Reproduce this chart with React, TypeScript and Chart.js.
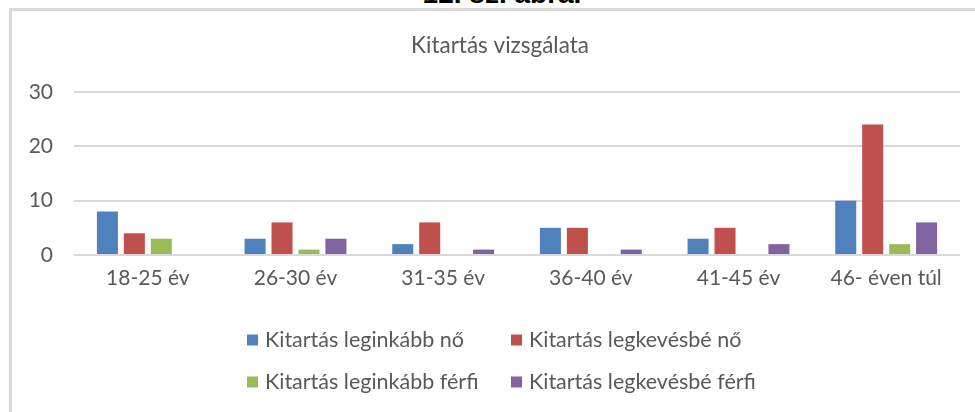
import React, { useEffect, useRef } from "react";
import { Chart, registerables } from "chart.js";

Chart.register(...registerables);

const categories = ["18-25 év", "26-30 év", "31-35 év", "36-40 év", "41-45 év", "46- éven túl"];
const seriesNames = [
  "Kitartás leginkább nő",
  "Kitartás legkevésbé nő",
  "Kitartás leginkább férfi",
  "Kitartás legkevésbé férfi",
];
const leginkabbNo = [8, 3, 2, 5, 3, 10];
const legkevesbeNo = [4, 6, 6, 5, 5, 24];
const leginkabbFerfi = [3, 1, 0, 0, 0, 2];
const legkevesbeFerfi = [0, 3, 1, 1, 2, 6];
const seriesColors = ["#4f81bd", "#c0504d", "#9bbb59", "#8064a2"];
const yMin = 0;
const yMax = 30;
const yStep = 10;
const chartTitle = "Kitartás vizsgálata";
const captionText = "12. sz. ábra.";

const FONT = "Lato, 'Open Sans', sans-serif";
const TEXT = "#595959";
const GRID = "#d9d9d9";

const titleLegendPlugin = {
  id: "titleAndGridLegend",
  afterDraw(chart: any) {
    const ctx = chart.ctx;
    ctx.save();
    // title
    ctx.font = `22.5px ${FONT}`;
    ctx.fillStyle = TEXT;
    ctx.textAlign = "center";
    ctx.textBaseline = "middle";
    ctx.fillText(chartTitle, 488, 35);
    // legend in two aligned columns
    const cols = [235, 499];
    const rows = [329, 371];
    const box = 11;
    ctx.font = `21.5px ${FONT}`;
    ctx.textAlign = "left";
    chart.data.datasets.forEach((ds: any, i: number) => {
      const x = cols[i % 2];
      const y = rows[Math.floor(i / 2)];
      ctx.fillStyle = ds.backgroundColor;
      ctx.fillRect(x, y - box / 2, box, box);
      ctx.fillStyle = TEXT;
      ctx.fillText(ds.label, x + box + 7, y);
    });
    ctx.restore();
  },
};

export default function App() {
  const ref = useRef<HTMLCanvasElement>(null);

  useEffect(() => {
    const values = [leginkabbNo, legkevesbeNo, leginkabbFerfi, legkevesbeFerfi];
    const chart = new Chart(ref.current as HTMLCanvasElement, {
      type: "bar",
      data: {
        labels: categories,
        datasets: seriesNames.map((name, i) => ({
          label: name,
          data: values[i],
          backgroundColor: seriesColors[i],
          borderWidth: 0,
          categoryPercentage: 0.73,
          barPercentage: 0.78,
        })),
      },
      options: {
        responsive: false,
        animation: false,
        layout: { padding: { left: 0, right: 15, top: 81, bottom: 0 } },
        plugins: {
          legend: { display: false },
          tooltip: { enabled: false },
          title: { display: false },
        },
        scales: {
          x: {
            grid: { display: false },
            border: { display: false },
            ticks: { color: TEXT, font: { family: FONT, size: 21 }, padding: 3, maxRotation: 0 },
            afterFit: (s: any) => {
              s.height = 157;
            },
          },
          y: {
            min: yMin,
            max: yMax,
            grid: { color: GRID, lineWidth: 2, drawTicks: false },
            border: { display: false },
            ticks: { color: TEXT, font: { family: FONT, size: 21 }, padding: 21, stepSize: yStep },
            afterFit: (s: any) => {
              s.width = 62;
            },
          },
        },
      },
      plugins: [titleLegendPlugin],
    });
    return () => chart.destroy();
  }, []);

  return (
    <div style={{ position: "fixed", left: 0, top: 0, width: 975, height: 412, overflow: "hidden", background: "#fff" }}>
      <div
        style={{
          position: "absolute",
          left: 502,
          top: -20,
          transform: "translateX(-50%)",
          whiteSpace: "nowrap",
          font: "bold 28px 'Liberation Sans', Arial, sans-serif",
          lineHeight: "28px",
          color: "#000",
        }}
      >
        {captionText}
      </div>
      <div
        style={{
          position: "absolute",
          left: 9,
          top: 8,
          width: 985,
          height: 440,
          border: `3px solid ${GRID}`,
          boxSizing: "border-box",
        }}
      />
      <canvas ref={ref} width={963} height={401} style={{ position: "absolute", left: 12, top: 11 }} />
    </div>
  );
}
